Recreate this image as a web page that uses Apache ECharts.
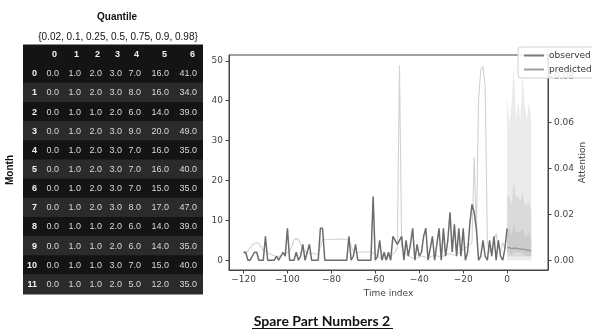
<!DOCTYPE html>
<html>
<head>
<meta charset="utf-8">
<script src="https://cdn.jsdelivr.net/npm/echarts@6/dist/echarts.min.js"></script>
<style>
  html, body { margin: 0; padding: 0; background: #ffffff; }
  #chart { width: 592px; height: 331px; }
</style>
</head>
<body>
<div id="chart"></div>
<script>
// ---- Quantile forecast table (rows = month, columns = quantile index) ----
const quantileLevels = [0.02, 0.1, 0.25, 0.5, 0.75, 0.9, 0.98];
const quantileCols = ['0', '1', '2', '3', '4', '5', '6'];
const months = [0, 1, 2, 3, 4, 5, 6, 7, 8, 9, 10, 11];
const q02 = [0, 0, 0, 0, 0, 0, 0, 0, 0, 0, 0, 0];
const q10 = [1, 1, 1, 1, 1, 1, 1, 1, 1, 1, 1, 1];
const q25 = [2, 2, 1, 2, 2, 2, 2, 2, 1, 1, 1, 1];
const q50 = [3, 3, 2, 3, 3, 3, 3, 3, 2, 2, 3, 2];
const q75 = [7, 8, 6, 9, 7, 7, 7, 8, 6, 6, 7, 5];
const q90 = [16, 16, 14, 20, 16, 16, 15, 17, 14, 14, 15, 12];
const q98 = [41, 34, 39, 49, 35, 40, 35, 47, 39, 35, 40, 35];

// ---- Time series ----
const obsStart = -120;   // first time index of the observed history
const observed = [
  2, 2, 0, 0, 1, 2, 2, 0, 0, 0,
  6, 0, 0, 0, 0, 1, 0, 1, 2, 1,
  8, 0, 0, 0, 2, 0, 1, 4, 0, 2,
  4, 0, 0, 0, 0, 8, 8, 0, 0, 0,
  0, 0, 0, 0, 0, 0, 0, 0, 6, 0,
  1, 4, 0, 0, 0, 0, 0, 0, 0, 16,
  0, 1, 5, 0, 2, 0, 2, 0, 6, 5,
  4, 5, 6, 0, 5, 1, 4, 8, 0, 4,
  1, 2, 6, 8, 0, 3, 6, 0, 4, 8,
  0, 8, 1, 5, 12, 2, 9, 1, 8, 1,
  8, 0, 2, 9, 14, 12, 8, 0, 1, 5,
  1, 0, 5, 1, 6, 0, 5, 1, 0, 3,
  8
];
const predicted = [3.1, 3.2, 2.9, 3.0, 3.0, 2.9, 2.8, 2.8, 2.7, 2.5, 2.5, 2.3];
const attention = [
  0.0033, 0.0035, 0.0042, 0.0056, 0.0068, 0.0076, 0.0078, 0.0074, 0.0060, 0.0046,
  0.0040, 0.0034, 0.0030, 0.0026, 0.0022, 0.0019, 0.0019, 0.0021, 0.0026, 0.0031,
  0.0036, 0.0042, 0.0062, 0.0092, 0.0095, 0.0094, 0.0072, 0.0052, 0.0041, 0.0036,
  0.0031, 0.0035, 0.0031, 0.0028, 0.0030, 0.0060, 0.0093, 0.0092, 0.0091, 0.0091,
  0.0092, 0.0092, 0.0093, 0.0093, 0.0094, 0.0094, 0.0094, 0.0093, 0.0088, 0.0062,
  0.0042, 0.0038, 0.0037, 0.0037, 0.0038, 0.0038, 0.0038, 0.0039, 0.0039, 0.0034,
  0.0028, 0.0020, 0.0014, 0.0010, 0.0010, 0.0012, 0.0014, 0.0020, 0.0028, 0.0040,
  0.0055, 0.0850, 0.0060, 0.0042, 0.0030, 0.0022, 0.0016, 0.0012, 0.0010, 0.0012,
  0.0015, 0.0020, 0.0018, 0.0014, 0.0012, 0.0015, 0.0020, 0.0026, 0.0022, 0.0018,
  0.0016, 0.0020, 0.0026, 0.0032, 0.0030, 0.0026, 0.0024, 0.0028, 0.0034, 0.0040,
  0.0048, 0.0056, 0.0062, 0.0070, 0.0080, 0.0450, 0.0120, 0.0700, 0.0830, 0.0845,
  0.0760, 0.0080, 0.0040, 0.0050, 0.0090, 0.0120, 0.0060, 0.0040, 0.0080, 0.0050
];
const xTicks = [-120, -100, -80, -60, -40, -20, 0];
const yTicks = [0, 10, 20, 30, 40, 50];
const attTicks = [0, 0.02, 0.04, 0.06, 0.08];

// ---- derived data ----
const observedPts = observed.map((v, i) => [obsStart + i, v]);
const attentionPts = attention.map((v, i) => [obsStart + i, v]);
const predictedPts = predicted.map((v, i) => [months[i], v]);
const quantileTable = [q02, q10, q25, q50, q75, q90, q98];
const bands = [[q02, q98], [q10, q90], [q25, q75]];

const fmtNum = v => (v < 0 ? '\u2212' + Math.abs(v) : String(v));
const tickFont = { fontFamily: 'DejaVu Sans', fontSize: 9, color: '#444' };
const axisLineStyle = { show: true, onZero: false, lineStyle: { color: '#444', width: 1 } };

// table layout (px from the table's left edge)
const TABLE_W = 180;
const TABLE_ROWS = months.length + 1;   // header + one row per month
const INDEX_EDGE = 14;
const COL_EDGES = [36, 58, 79, 99, 118, 146, 174];

function renderTableRow(params, api) {
  const r = api.value(1);
  const tl = api.coord([0, r]);
  const br = api.coord([TABLE_W, r + 1]);
  const h = br[1] - tl[1];
  const cy = tl[1] + h / 2;
  const month = r - 1;
  const light = r > 0 && month % 2 === 1;
  const fill = light ? '#2b2b2b' : '#141414';
  const children = [{
    type: 'rect',
    shape: { x: tl[0], y: tl[1] - 0.5, width: br[0] - tl[0], height: h + 1 },
    style: { fill: fill }
  }];
  const text = (str, edge, bold, color) => ({
    type: 'text',
    style: {
      x: api.coord([edge, r])[0], y: cy, text: str,
      align: 'right', verticalAlign: 'middle',
      font: (bold ? 'bold ' : '') + '9px "Liberation Sans", Arial, sans-serif',
      fill: color
    }
  });
  if (r === 0) {
    quantileCols.forEach((c, j) => children.push(text(c, COL_EDGES[j] - 2, true, '#f2f2f2')));
  } else {
    children.push(text(String(months[month]), INDEX_EDGE, true, '#f2f2f2'));
    quantileTable.forEach((col, j) => children.push(text(col[month].toFixed(1), COL_EDGES[j], false, '#d9d9d9')));
  }
  return { type: 'group', children };
}

function renderBand(params, api) {
  const [lo, hi] = bands[api.value(2)];
  const pts = [];
  months.forEach((m, i) => pts.push(api.coord([m, hi[i]])));
  for (let i = months.length - 1; i >= 0; i--) pts.push(api.coord([months[i], lo[i]]));
  return { type: 'polygon', shape: { points: pts }, style: { fill: 'rgba(122,122,122,0.15)' } };
}

const chart = echarts.init(document.getElementById('chart'), null, { renderer: 'canvas' });
chart.setOption({
  animation: false,
  backgroundColor: '#ffffff',
  grid: [
    { left: 229, top: 55, right: 44, bottom: 61, outerBoundsMode: 'none', containLabel: false,
      show: true, borderColor: '#444', borderWidth: 1, backgroundColor: 'transparent' },
    { left: 23, top: 45, width: TABLE_W, height: 249, outerBoundsMode: 'none', containLabel: false }
  ],
  xAxis: [
    {
      type: 'value', gridIndex: 0, min: -126.6, max: 18.6,
      name: 'Time index', nameLocation: 'middle', nameGap: 19, nameMoveOverlap: false,
      nameTextStyle: { fontFamily: 'DejaVu Sans', fontSize: 9, color: '#444' },
      axisLine: axisLineStyle,
      axisTick: { show: true, length: 3.5, lineStyle: { color: '#444' }, customValues: xTicks },
      axisLabel: Object.assign({ margin: 5, customValues: xTicks, formatter: fmtNum }, tickFont),
      splitLine: { show: false }
    },
    { type: 'value', gridIndex: 1, min: 0, max: TABLE_W, show: false }
  ],
  yAxis: [
    {
      type: 'value', gridIndex: 0, min: -2.45, max: 51.45,
      axisLine: axisLineStyle,
      axisTick: { show: true, length: 3.5, lineStyle: { color: '#444' }, customValues: yTicks },
      axisLabel: Object.assign({ margin: 6, customValues: yTicks, formatter: fmtNum }, tickFont),
      splitLine: { show: false }
    },
    {
      type: 'value', gridIndex: 0, position: 'right', min: -0.00404, max: 0.08943,
      name: 'Attention', nameLocation: 'middle', nameRotate: 90, nameGap: 30, nameMoveOverlap: false,
      nameTextStyle: { fontFamily: 'DejaVu Sans', fontSize: 9, color: '#444' },
      axisLine: axisLineStyle,
      axisTick: { show: true, length: 3.5, lineStyle: { color: '#444' }, customValues: attTicks },
      axisLabel: Object.assign({ margin: 6, customValues: attTicks, formatter: v => v.toFixed(2) }, tickFont),
      splitLine: { show: false }
    },
    { type: 'value', gridIndex: 1, min: 0, max: TABLE_ROWS, inverse: true, show: false }
  ],
  legend: {
    left: 518, top: 47, orient: 'vertical',
    backgroundColor: 'rgba(255,255,255,0.85)', borderColor: '#d0d0d0', borderWidth: 1, borderRadius: 3,
    padding: [4, 6, 4, 6], itemGap: 5, itemWidth: 20, itemHeight: 2,
    textStyle: { fontFamily: 'DejaVu Sans', fontSize: 9, color: '#333' },
    data: [{ name: 'observed', icon: 'rect' }, { name: 'predicted', icon: 'rect' }]
  },
  series: [
    {
      name: 'attention', type: 'line', xAxisIndex: 0, yAxisIndex: 1,
      data: attentionPts, showSymbol: false, symbol: 'none',
      lineStyle: { color: '#d2d2d2', width: 1.1 }, itemStyle: { color: '#d2d2d2' }, z: 1
    },
    {
      name: 'quantile bands', type: 'custom', xAxisIndex: 0, yAxisIndex: 0,
      data: bands.map((b, k) => [0, 0, k]), encode: { x: 0, y: 1 },
      renderItem: renderBand, z: 2, silent: true
    },
    {
      name: 'observed', type: 'line', xAxisIndex: 0, yAxisIndex: 0,
      data: observedPts, showSymbol: false, symbol: 'none',
      lineStyle: { color: '#6c6c6c', width: 1.5 }, itemStyle: { color: '#7a7a7a' }, z: 3
    },
    {
      name: 'predicted', type: 'line', xAxisIndex: 0, yAxisIndex: 0,
      data: predictedPts, showSymbol: false, symbol: 'none',
      lineStyle: { color: '#989898', width: 1.3 }, itemStyle: { color: '#a0a0a0' }, z: 4
    },
    {
      name: 'quantile table', type: 'custom', xAxisIndex: 1, yAxisIndex: 2,
      data: Array.from({ length: TABLE_ROWS }, (_, r) => [0, r]), encode: { x: 0, y: 1 },
      renderItem: renderTableRow, silent: true
    }
  ],
  graphic: [
    { type: 'text', x: 117, y: 17, style: { text: 'Quantile', align: 'center', verticalAlign: 'middle', font: 'bold 10px "Liberation Sans", Arial, sans-serif', fill: '#111' } },
    { type: 'text', x: 118, y: 37, style: { text: '{' + quantileLevels.join(', ') + '}', align: 'center', verticalAlign: 'middle', font: '10px "Liberation Sans", Arial, sans-serif', fill: '#111' } },
    { type: 'text', x: 10, y: 170, rotation: Math.PI / 2, style: { text: 'Month', align: 'center', verticalAlign: 'middle', font: 'bold 10px "Liberation Sans", Arial, sans-serif', fill: '#111' } },
    { type: 'text', x: 322, y: 321, style: { text: 'Spare Part Numbers 2', align: 'center', verticalAlign: 'middle', font: 'bold 14px Lato, "Open Sans", sans-serif', fill: '#111' } },
    { type: 'line', shape: { x1: 252, y1: 328.5, x2: 393, y2: 328.5 }, style: { stroke: '#111', lineWidth: 1.2 } }
  ]
});
</script>
</body>
</html>
